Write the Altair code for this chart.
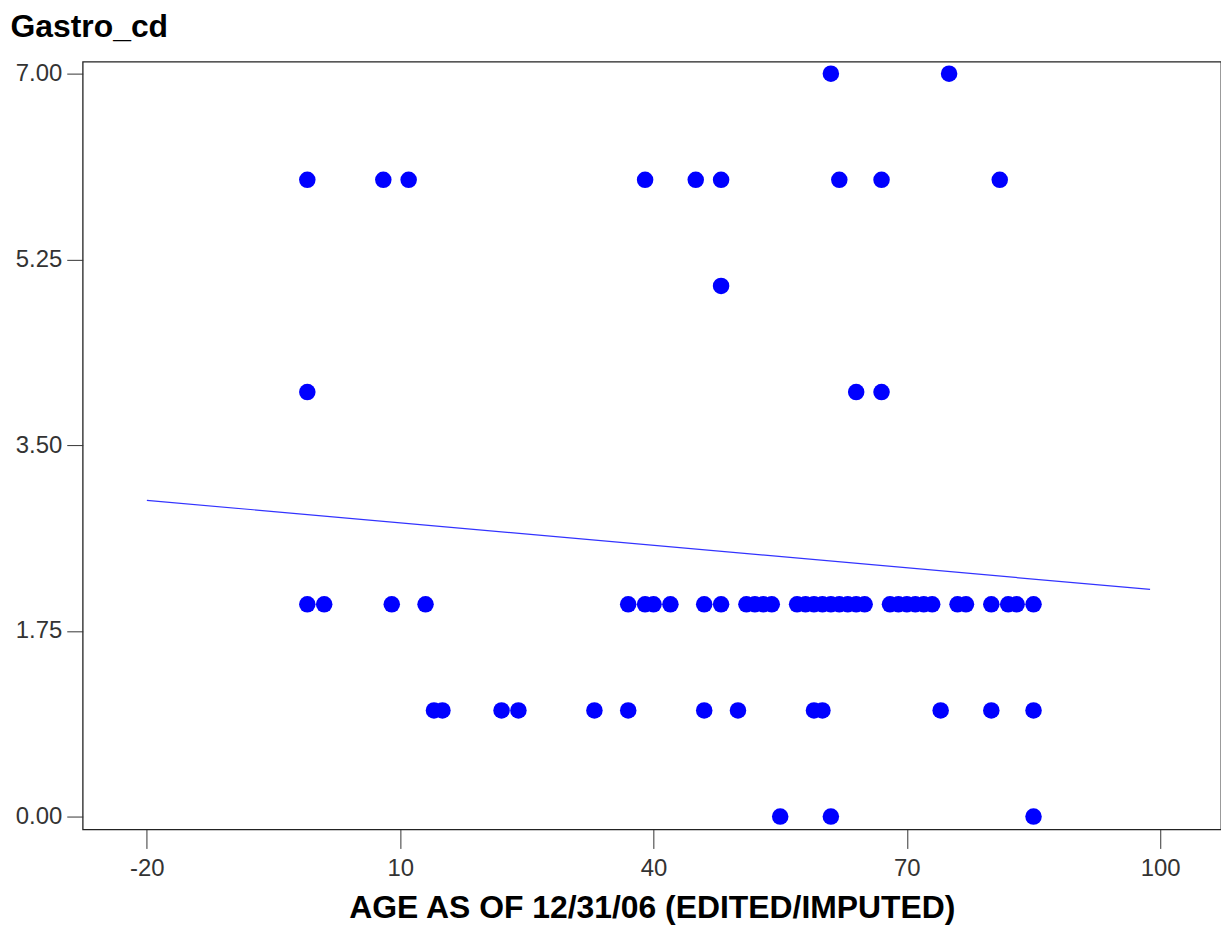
import altair as alt
import pandas as pd

# Gastro_cd value rows and the ages (x) of the points on each row
ages_at_7 = [61, 75]
ages_at_6 = [-1, 8, 11, 39, 45, 48, 62, 67, 81]
ages_at_5 = [48]
ages_at_4 = [-1, 64, 67]
ages_at_2 = [-1, 1, 9, 13, 37, 39, 40, 42, 46, 48, 51, 52, 53, 54,
             57, 58, 59, 60, 61, 62, 63, 64, 65,
             68, 69, 70, 71, 72, 73, 76, 77, 80, 82, 83, 85]
ages_at_1 = [14, 15, 22, 24, 33, 37, 46, 50, 59, 60, 74, 80, 85]
ages_at_0 = [55, 61, 85]

# fit line
fit_age = [-20, 98.8]
fit_val = [2.98, 2.14]

x_ticks = [-20, 10, 40, 70, 100]
y_ticks = [0, 1.75, 3.5, 5.25, 7]

rows = []
for val, ages in [(7, ages_at_7), (6, ages_at_6), (5, ages_at_5), (4, ages_at_4),
                  (2, ages_at_2), (1, ages_at_1), (0, ages_at_0)]:
    for a in ages:
        rows.append({"age": a, "gastro": val})
pts = pd.DataFrame(rows)
fit = pd.DataFrame({"age": fit_age, "gastro": fit_val})

FONT = "Liberation Sans"
x_scale = alt.Scale(domain=[-27.6, 107.2], nice=False, zero=False)
y_scale = alt.Scale(domain=[-0.122, 7.113], nice=False, zero=False)

x_axis = alt.Axis(values=x_ticks, title="AGE AS OF 12/31/06 (EDITED/IMPUTED)",
                  labelExpr="'' + datum.value",
                  grid=False, domain=False, tickSize=19, tickColor="#333333", tickWidth=1,
                  labelPadding=8, labelFontSize=24, labelFont=FONT, labelColor="#333333",
                  labelFlush=False,
                  titleFont=FONT, titleFontSize=32, titleFontWeight="bold", titleColor="black",
                  titleY=88, titleBaseline="alphabetic")
y_axis = alt.Axis(values=y_ticks, format=".2f", title="Gastro_cd",
                  grid=False, domain=False, tickSize=16, tickColor="#333333", tickWidth=1,
                  labelPadding=5, labelFontSize=24, labelFont=FONT, labelColor="#333333",
                  labelFlush=False,
                  titleFont=FONT, titleFontSize=32, titleFontWeight="bold", titleColor="black",
                  titleAngle=0, titleX=-73, titleY=-25, titleAlign="left",
                  titleBaseline="alphabetic")

points = alt.Chart(pts).mark_circle(size=275, color="#0000FF", opacity=1).encode(
    x=alt.X("age:Q", scale=x_scale, axis=x_axis),
    y=alt.Y("gastro:Q", scale=y_scale, axis=y_axis),
)
line = alt.Chart(fit).mark_line(color="#3333FF", strokeWidth=1.2).encode(
    x=alt.X("age:Q", scale=x_scale),
    y=alt.Y("gastro:Q", scale=y_scale),
)

chart = alt.layer(points, line).properties(
    width=1143, height=771,
    autosize=alt.AutoSizeParams(type="none"),
    padding={"left": 75, "top": 52, "right": 0, "bottom": 95},
).configure(background="white").configure_view(stroke="#222222", strokeWidth=1.3)

chart.save("out.html", embed_options={"renderer": "svg", "actions": False})
